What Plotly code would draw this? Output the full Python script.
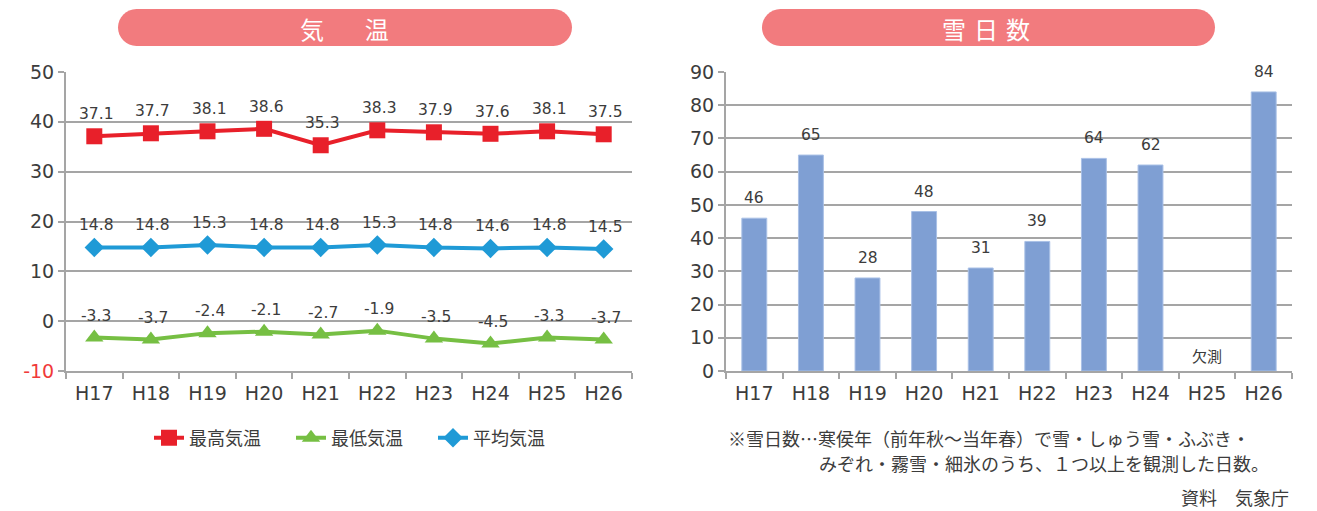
import plotly.graph_objects as go

years = ["H17", "H18", "H19", "H20", "H21", "H22", "H23", "H24", "H25", "H26"]
temp_max = [37.1, 37.7, 38.1, 38.6, 35.3, 38.3, 37.9, 37.6, 38.1, 37.5]
temp_min = [-3.3, -3.7, -2.4, -2.1, -2.7, -1.9, -3.5, -4.5, -3.3, -3.7]
temp_avg = [14.8, 14.8, 15.3, 14.8, 14.8, 15.3, 14.8, 14.6, 14.8, 14.5]
snow_days = [46, 65, 28, 48, 31, 39, 64, 62, None, 84]

W, H = 1317, 511
FONT = "'DejaVu Sans', 'Noto Sans CJK JP', sans-serif"
JFONT = "'Noto Sans CJK JP', sans-serif"
GRID = "#A5A5A5"
TXT = "#3C3C3C"


def px(x):
    return x / W


def py(y):
    return 1 - y / H


fig = go.Figure()

series = [
    ("最高気温", temp_max, "#E8202A", "square", 16),
    ("最低気温", temp_min, "#76BF43", "triangle-up", 16),
    ("平均気温", temp_avg, "#1F9AD6", "diamond", 15),
]
for name, vals, col, sym, sz in series:
    fig.add_trace(go.Scatter(
        x=years, y=vals, name=name, mode="lines+markers",
        line=dict(color=col, width=4),
        marker=dict(symbol=sym, size=sz, color=col),
        xaxis="x", yaxis="y",
    ))

annotations = []
for name, vals, col, sym, sz in series:
    for yr, v in zip(years, vals):
        annotations.append(dict(x=yr, y=v, xref="x", yref="y", text=f"{v:.1f}",
                                showarrow=False, yshift=22, xshift=2,
                                font=dict(family=FONT, size=15.5, color=TXT)))

fig.add_trace(go.Bar(
    x=years, y=snow_days, width=0.44, showlegend=False,
    marker=dict(color="#7F9FD3", line=dict(color="#A9C0E6", width=1)),
    xaxis="x2", yaxis="y2",
))

for yr, v in zip(years, snow_days):
    if v is not None:
        annotations.append(dict(x=yr, y=v, xref="x2", yref="y2", text=str(v),
                                showarrow=False, yshift=20,
                                font=dict(family=FONT, size=15.5, color=TXT)))
    else:
        annotations.append(dict(x=yr, y=0, xref="x2", yref="y2", text="欠測",
                                showarrow=False, yshift=16,
                                font=dict(family=JFONT, size=15, color=TXT)))

# titles
annotations.append(dict(x=px(344), y=py(28), xref="paper", yref="paper",
                        xanchor="center", yanchor="middle",
                        text="気\u3000\u2002\u2009温", showarrow=False,
                        font=dict(family=JFONT, size=24, color="white")))
annotations.append(dict(x=px(986), y=py(28), xref="paper", yref="paper",
                        xanchor="center", yanchor="middle",
                        text="雪\u2004日\u2004数", showarrow=False,
                        font=dict(family=JFONT, size=24, color="white")))

# notes
annotations.append(dict(x=px(726), y=py(438), xref="paper", yref="paper",
                        xanchor="left", yanchor="middle",
                        text="※雪日数…寒侯年（前年秋～当年春）で雪・しゅう雪・ふぶき・",
                        showarrow=False, font=dict(family=JFONT, size=18, color=TXT)))
annotations.append(dict(x=px(817), y=py(463), xref="paper", yref="paper",
                        xanchor="left", yanchor="middle",
                        text="みぞれ・霧雪・細氷のうち、１つ以上を観測した日数。",
                        showarrow=False, font=dict(family=JFONT, size=18, color=TXT)))
annotations.append(dict(x=px(1291), y=py(497), xref="paper", yref="paper",
                        xanchor="right", yanchor="middle",
                        text="資料\u3000気象庁",
                        showarrow=False, font=dict(family=JFONT, size=18, color=TXT)))


def pill(x0, x1, y0, y1):
    r = (y1 - y0) / 2
    yc = (y0 + y1) / 2
    k = 0.5523 * r

    def P(x, y):
        return f"{px(x):.5f},{py(y):.5f}"
    d = (f"M{P(x0 + r, y0)} L{P(x1 - r, y0)} "
         f"C{P(x1 - r + k, y0)} {P(x1, yc - k)} {P(x1, yc)} "
         f"C{P(x1, yc + k)} {P(x1 - r + k, y1)} {P(x1 - r, y1)} "
         f"L{P(x0 + r, y1)} "
         f"C{P(x0 + r - k, y1)} {P(x0, yc + k)} {P(x0, yc)} "
         f"C{P(x0, yc - k)} {P(x0 + r - k, y0)} {P(x0 + r, y0)} Z")
    return dict(type="path", path=d, xref="paper", yref="paper",
                fillcolor="#F27B7E", line=dict(width=0), layer="below")


shapes = [pill(118, 572, 9, 46), pill(762, 1215, 9, 46)]

ydom = [py(371), py(72)]
common_y = dict(showline=True, linecolor=GRID, linewidth=2, automargin=False,
                tickfont=dict(family=FONT, size=19, color=TXT),
                ticks="outside", ticklen=6, tickwidth=2, tickcolor=GRID,
                showgrid=True, gridcolor=GRID, gridwidth=2, zeroline=False)
common_x = dict(showline=True, linecolor=GRID, linewidth=2, automargin=False,
                tickfont=dict(family=FONT, size=19, color=TXT), type="category",
                tickson="boundaries", ticks="outside", ticklen=6, tickwidth=2,
                tickcolor=GRID, showgrid=False, range=[-0.5, len(years) - 0.5],
                ticklabelstandoff=4)

left_ticks = [-10, 0, 10, 20, 30, 40, 50]
left_text = ["<span style='color:#F03A3A'>-10</span>"] + [str(v) for v in left_ticks[1:]]

fig.update_layout(
    width=W, height=H,
    margin=dict(l=0, r=0, t=0, b=0, pad=0, autoexpand=False),
    paper_bgcolor="white", plot_bgcolor="white",
    font=dict(family=FONT, color=TXT),
    xaxis=dict(domain=[px(66), px(632)], anchor="y", **common_x),
    yaxis=dict(domain=ydom, anchor="x", range=[-10, 50],
               tickvals=left_ticks, ticktext=left_text, **common_y),
    xaxis2=dict(domain=[px(726), px(1292)], anchor="y2", **common_x),
    yaxis2=dict(domain=ydom, anchor="x2", range=[0, 90], dtick=10, **common_y),
    legend=dict(orientation="h", x=px(362), xanchor="center",
                y=py(438), yanchor="middle",
                font=dict(family=JFONT, size=18, color=TXT),
                entrywidth=97, bgcolor="rgba(0,0,0,0)"),
    annotations=annotations,
    shapes=shapes,
    bargap=0.56,
)

fig.write_html("out.html", config={"displayModeBar": False},
               post_script="document.body.style.margin='0';")
